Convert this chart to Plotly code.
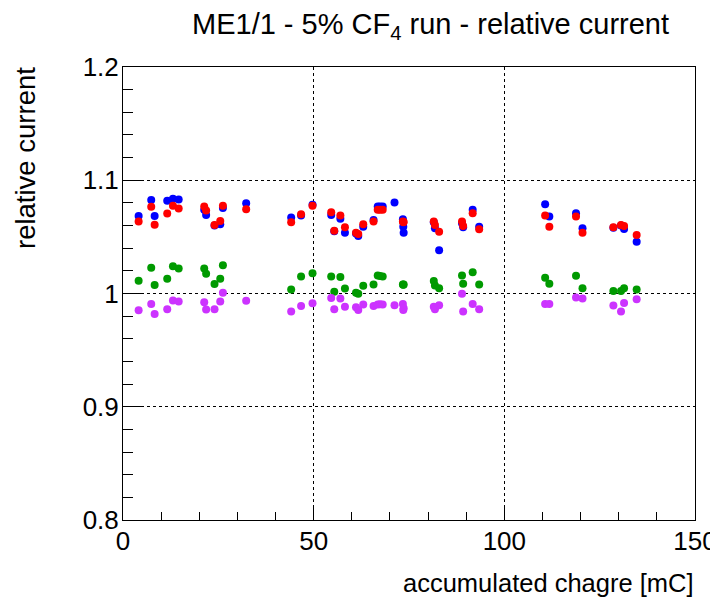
import plotly.graph_objects as go

charge = [4.1, 7.4, 8.3, 11.6, 13.1, 14.6, 21.3, 21.8, 24.0, 25.5, 26.2, 32.3,
          44.1, 46.7, 49.7, 54.6, 55.4, 57.0, 58.2, 61.1, 61.7, 63.0, 65.7,
          66.8, 67.4, 68.1, 71.2, 73.4, 73.5, 73.6, 81.5, 81.8, 82.9, 88.9,
          89.2, 91.7, 93.4, 110.7, 111.8, 118.8, 120.5, 128.6, 130.6, 131.4, 134.7]

blue = [1.0685, 1.0825, 1.0685, 1.0819, 1.0837, 1.0831, 1.0740, 1.0694, 1.0600, 1.0611, 1.0754, 1.0798,
        1.0671, 1.0688, 1.0783, 1.0694, 1.0550, 1.0659, 1.0537, 1.0530, 1.0507, 1.0590, 1.0650,
        1.0769, 1.0769, 1.0769, 1.0804, 1.0656, 1.0590, 1.0537, 1.0630, 1.0576, 1.0383, 1.0620,
        1.0585, 1.0739, 1.0590, 1.0789, 1.0680, 1.0709, 1.0576, 1.0580, 1.0600, 1.0570, 1.0457]

red = [1.0635, 1.0766, 1.0608, 1.0706, 1.0774, 1.0751, 1.0769, 1.0733, 1.0605, 1.0641, 1.0774, 1.0745,
       1.0629, 1.0700, 1.0774, 1.0718, 1.0555, 1.0688, 1.0585, 1.0537, 1.0525, 1.0611, 1.0635,
       1.0739, 1.0739, 1.0739, None, 1.0635, 1.0630, 1.0632, 1.0635, 1.0605, 1.0546, 1.0635,
       1.0595, 1.0709, 1.0567, 1.0688, 1.0590, 1.0680, 1.0537, 1.0585, 1.0605, 1.0596, 1.0516]

green = [1.0113, 1.0228, 1.0074, 1.0131, 1.0240, 1.0220, 1.0220, 1.0175, 1.0083, 1.0131, 1.0249, None,
         1.0036, 1.0151, 1.0178, 1.0151, 1.0015, 1.0145, 1.0045, 1.0006, 0.9997, 1.0068, 1.0080,
         1.0160, 1.0155, 1.0151, None, 1.0080, 1.0078, 1.0079, 1.0110, 1.0071, 1.0047, 1.0160,
         1.0086, 1.0187, 1.0080, 1.0139, 1.0086, 1.0157, 1.0047, 1.0021, 1.0021, 1.0047, 1.0036]

magenta = [0.9852, 0.9908, 0.9819, 0.9861, 0.9938, 0.9929, 0.9923, 0.9858, 0.9861, 0.9929, 1.0006, 0.9935,
           0.9840, 0.9890, 0.9914, 0.9961, 0.9861, 0.9955, 0.9884, 0.9878, 0.9855, 0.9902, 0.9890,
           0.9902, 0.9905, 0.9902, 0.9896, 0.9908, 0.9855, 0.9870, 0.9884, 0.9861, 0.9896, 0.9997,
           0.9840, 0.9908, 0.9861, 0.9908, 0.9908, 0.9964, 0.9955, 0.9893, 0.9840, 0.9917, 0.9950]

series = [("green", green, "#009a00"), ("magenta", magenta, "#cc33ff"),
          ("blue", blue, "#0000ff"), ("red", red, "#ff0000")]

y_tickvals = [0.8, 0.9, 1.0, 1.1, 1.2]
y_ticktext = ["0.8", "0.9", "1", "1.1", "1.2"]

title_text = "ME1/1 - 5% CF<sub>4</sub> run - relative current"
x_title = "accumulated chagre [mC]"
y_title = "relative current"

FONT = "Liberation Sans, Arial, Helvetica, sans-serif"

fig = go.Figure()
for name, vals, col in series:
    fig.add_trace(go.Scatter(
        x=charge, y=vals, mode="markers", name=name,
        marker=dict(color=col, size=8, line=dict(width=0)),
        showlegend=False,
    ))

# the page body has an 8px margin, so the figure is drawn 8px smaller
W, H = 710, 592
L, R, T, B = 115, 23, 59, 80
PW, PH = W - L - R, H - T - B
fig.update_layout(
    width=W, height=H,
    margin=dict(l=L, r=R, t=T, b=B, autoexpand=False),
    paper_bgcolor="white", plot_bgcolor="white",
    font=dict(family=FONT, color="black", size=26),
    xaxis=dict(
        range=[0, 150], dtick=50, tick0=0, automargin=False,
        showline=True, mirror=True, linecolor="black", linewidth=1,
        ticks="inside", ticklen=15, tickcolor="black", tickwidth=1,
        minor=dict(dtick=10, ticks="inside", ticklen=8, tickcolor="black", showgrid=False),
        showgrid=True, gridcolor="black", griddash="dot", gridwidth=1,
        zeroline=False, tickfont=dict(size=26), ticklabelstandoff=-2,
    ),
    yaxis=dict(
        range=[0.8, 1.2], automargin=False,
        tickvals=y_tickvals, ticktext=y_ticktext,
        showline=True, mirror=True, linecolor="black", linewidth=1,
        ticks="inside", ticklen=19, tickcolor="black", tickwidth=1,
        minor=dict(dtick=0.02, tick0=0.8, ticks="inside", ticklen=10, tickcolor="black", showgrid=False),
        showgrid=True, gridcolor="black", griddash="dot", gridwidth=1,
        zeroline=False, tickfont=dict(size=26), ticklabelstandoff=-2,
    ),
    annotations=[
        dict(text=title_text, xref="paper", yref="paper",
             x=(422 - L) / PW, y=1 + (T - 18) / PH, xanchor="center", yanchor="middle",
             showarrow=False, font=dict(size=29)),
        dict(text=x_title, xref="paper", yref="paper",
             x=(688 - L) / PW, y=-(575 - (T + PH)) / PH, xanchor="right", yanchor="middle",
             showarrow=False, font=dict(size=25.5)),
        dict(text=y_title, xref="paper", yref="paper", textangle=-90,
             x=(17 - L) / PW, y=1 + (T - 57) / PH, xanchor="center", yanchor="top",
             showarrow=False, font=dict(size=27.5)),
    ],
)

fig.write_html("out.html")
